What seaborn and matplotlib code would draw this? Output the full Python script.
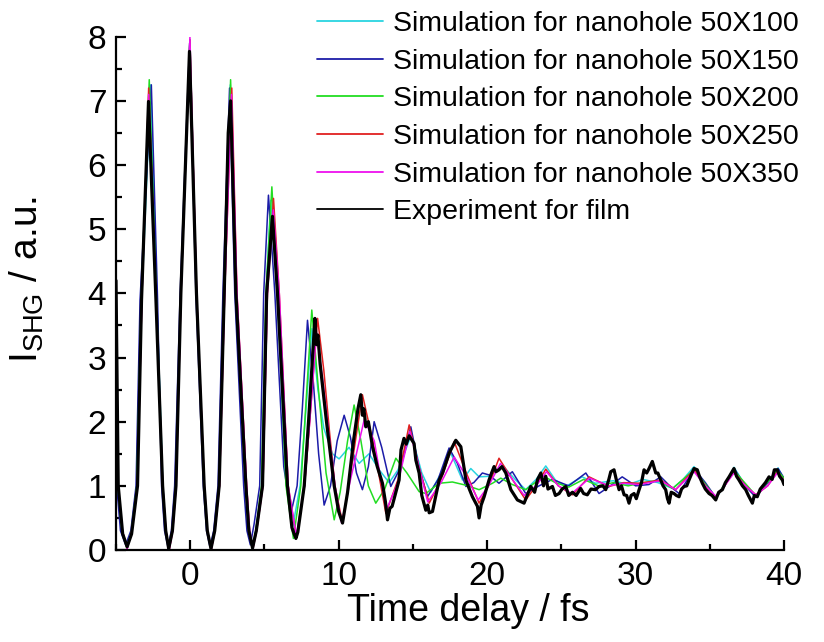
import matplotlib
matplotlib.use("Agg")
import matplotlib.pyplot as plt
from matplotlib.ticker import MultipleLocator
import numpy as np
import pandas as pd
import seaborn as sns

# ---- data: time delay (fs) and SHG intensity (a.u.) ----
x_100 = [-5.0, -4.86, -4.58, -4.25, -3.93, -3.58, -3.27, -2.66, -2.25, -1.84, -1.65, -1.43, -1.2, -0.98,
         -0.62, -0.02, 0.42, 0.93, 1.15, 1.4, 1.65, 1.94, 2.27, 2.70, 3.1, 3.74, 3.95, 4.18, 4.42, 4.84,
         5.12, 5.42, 5.85, 6.45, 6.9, 7.4, 7.8, 8.2, 8.6, 9.0, 9.58, 10.03, 10.7, 11.38, 12.05, 12.73,
         13.4, 14.0, 14.9, 15.6, 16.2, 16.9, 17.55, 18.34, 18.9, 19.46, 20.2, 21.03, 21.93, 22.6, 23.3,
         23.95, 24.6, 25.3, 26.4, 27.3, 28.5, 29.5, 30.5, 31.5, 32.5, 33.2, 33.94, 34.7, 35.4, 36.0,
         36.63, 37.4, 38.1, 38.9, 39.6, 40.0]
y_100 = [4.0, 1.0, 0.3, 0.03, 0.3, 1.0, 3.9, 7.25, 3.9, 1.0, 0.3, 0.02, 0.3, 1.0,
         4.0, 7.95, 4.0, 1.0, 0.3, 0.02, 0.3, 1.0, 4.0, 7.25, 4.0, 1.0, 0.3, 0.03, 0.3, 1.0,
         4.0, 5.45, 4.0, 1.1, 0.35, 1.0, 2.2, 3.45, 2.5, 1.9, 1.5, 1.42, 1.6, 1.35, 1.5, 1.25,
         1.05, 1.25, 1.8, 1.2, 0.9, 1.2, 1.51, 1.09, 1.27, 1.14, 1.15, 1.32, 1.09, 0.94, 1.1,
         1.31, 1.09, 0.99, 1.14, 1.04, 1.08, 1.02, 1.1, 1.05, 0.96, 1.1, 1.3, 1.0, 0.8, 1.0,
         1.29, 1.0, 0.83, 1.05, 1.28, 1.1]

x_150 = [-5.0, -4.95, -4.7, -4.35, -4.0, -3.65, -3.38, -2.62, -2.2, -1.93, -1.73, -1.5, -1.27, -1.05,
         -0.68, -0.04, 0.38, 0.88, 1.1, 1.33, 1.58, 1.87, 2.2, 2.65, 3.0, 3.6, 3.82, 4.05, 4.3, 4.68,
         4.95, 5.27, 5.7, 6.3, 6.78, 7.2, 7.55, 7.9, 8.3, 8.65, 9.02, 9.45, 9.9, 10.37, 10.8, 11.2,
         11.6, 12.0, 12.39, 12.9, 13.51, 14.2, 14.86, 15.4, 15.98, 16.7, 17.44, 18.0, 18.57, 19.1,
         19.68, 20.13, 20.8, 21.7, 22.6, 23.5, 24.4, 25.5, 26.65, 27.54, 28.3, 29.1, 30.0, 30.9, 31.7,
         32.3, 32.93, 33.94, 34.7, 35.4, 36.0, 36.63, 37.4, 38.1, 38.9, 39.6, 40.0]
y_150 = [3.6, 1.0, 0.3, 0.08, 0.3, 1.0, 3.9, 7.25, 3.9, 1.0, 0.3, 0.05, 0.3, 1.0,
         4.0, 7.9, 4.0, 1.0, 0.3, 0.05, 0.3, 1.0, 4.0, 7.2, 4.0, 1.0, 0.3, 0.08, 0.4, 1.0,
         4.0, 5.53, 4.0, 1.3, 0.57, 1.0, 2.2, 3.58, 2.6, 1.5, 0.7, 1.0, 1.7, 2.1, 1.75, 1.2,
         0.94, 1.3, 2.0, 1.6, 0.99, 1.3, 1.92, 1.3, 0.83, 1.1, 1.59, 1.35, 0.99, 1.05,
         1.2, 1.17, 1.04, 1.22, 0.88, 1.0, 1.1, 1.0, 1.2, 0.88, 1.0, 1.14, 1.0, 1.02, 1.14,
         1.0, 0.88, 1.27, 1.05, 0.82, 1.0, 1.27, 1.0, 0.82, 1.05, 1.27, 1.12]

x_200 = [-5.0, -4.88, -4.6, -4.27, -3.95, -3.6, -3.3, -2.76, -2.28, -1.86, -1.66, -1.44, -1.21, -0.98,
         -0.63, -0.02, 0.42, 0.93, 1.15, 1.4, 1.65, 1.95, 2.28, 2.72, 3.1, 3.74, 3.95, 4.18, 4.42, 4.8,
         5.1, 5.5, 5.9, 6.45, 6.95, 7.45, 7.8, 8.19, 8.6, 9.15, 9.7, 10.1, 10.6, 11.04, 11.5, 12.0,
         12.5, 13.1, 13.85, 14.6, 15.42, 15.87, 16.77, 17.66, 18.57, 19.46, 20.36, 20.92, 21.7, 22.6,
         23.8, 24.6, 25.5, 26.5, 27.5, 28.5, 29.5, 30.5, 31.5, 32.5, 33.94, 35.4, 36.63, 38.1, 39.55, 40.0]
y_200 = [3.9, 1.0, 0.3, 0.03, 0.3, 1.0, 3.9, 7.33, 3.9, 1.0, 0.3, 0.02, 0.3, 1.0,
         4.0, 7.95, 4.0, 1.0, 0.3, 0.02, 0.3, 1.0, 4.0, 7.33, 4.0, 1.0, 0.3, 0.03, 0.3, 1.0,
         4.0, 5.66, 4.0, 1.0, 0.18, 1.0, 2.3, 3.74, 2.6, 1.2, 0.47, 0.9, 1.7, 2.26, 1.7, 1.0,
         0.73, 0.95, 1.43, 1.2, 0.91, 0.88, 1.04, 1.06, 1.01, 0.94, 1.04, 1.12, 1.02, 0.94,
         1.15, 1.05, 0.98, 1.1, 1.0, 1.05, 1.0, 1.05, 1.08, 0.96, 1.25, 0.82, 1.24, 0.85, 1.24, 1.12]

x_250 = [-5.0, -4.86, -4.57, -4.25, -3.93, -3.56, -3.26, -2.8, -2.3, -1.85, -1.64, -1.42, -1.18, -0.95,
         -0.62, -0.02, 0.43, 0.95, 1.16, 1.41, 1.66, 1.97, 2.32, 2.8, 3.15, 3.8, 4.0, 4.22, 4.47, 4.9,
         5.2, 5.61, 6.0, 6.6, 7.15, 7.7, 8.05, 8.58, 9.0, 9.4, 9.75, 10.26, 10.8, 11.6, 12.3, 13.18,
         14.0, 14.75, 15.4, 16.1, 16.9, 17.78, 18.6, 19.46, 20.1, 20.8, 21.7, 22.6, 23.3, 23.95, 24.8,
         25.75, 26.87, 28.2, 29.2, 30.24, 31.7, 32.7, 33.94, 34.7, 35.4, 36.0, 36.63, 37.4, 38.1, 38.9,
         39.55, 40.0]
y_250 = [4.0, 1.0, 0.3, 0.02, 0.3, 1.0, 3.9, 7.2, 3.9, 1.0, 0.3, 0.0, 0.3, 1.0,
         4.0, 7.95, 4.0, 1.0, 0.3, 0.0, 0.3, 1.0, 4.0, 7.2, 4.0, 1.0, 0.3, 0.02, 0.3, 1.0,
         4.0, 5.48, 4.0, 1.0, 0.2, 1.0, 2.0, 3.61, 2.8, 1.8, 1.0, 0.42, 1.2, 2.42, 1.7, 0.57,
         1.1, 1.95, 1.3, 0.73, 1.1, 1.69, 1.2, 0.73, 1.0, 1.43, 1.1, 0.78, 1.0, 1.26, 1.0,
         0.86, 1.14, 0.99, 1.05, 1.04, 1.09, 0.94, 1.25, 1.0, 0.81, 1.0, 1.22, 1.0, 0.86, 1.0,
         1.22, 1.08]

x_350 = [-5.0, -4.86, -4.57, -4.25, -3.93, -3.56, -3.26, -2.8, -2.3, -1.85, -1.64, -1.42, -1.18, -0.95,
         -0.62, -0.02, 0.43, 0.95, 1.16, 1.41, 1.66, 1.97, 2.32, 2.78, 3.15, 3.8, 4.0, 4.22, 4.47, 4.9,
         5.2, 5.6, 6.0, 6.6, 7.15, 7.7, 8.05, 8.5, 8.95, 9.4, 9.75, 10.2, 10.8, 11.72, 12.4, 13.2,
         14.0, 14.8, 15.4, 16.0, 16.9, 17.78, 18.6, 19.4, 20.1, 20.9, 21.7, 22.5, 23.3, 24.0, 24.8,
         25.7, 26.9, 28.2, 29.2, 30.2, 31.7, 32.7, 33.94, 34.7, 35.4, 36.0, 36.63, 37.4, 38.1, 38.9,
         39.55, 40.0]
y_350 = [4.0, 1.0, 0.3, 0.02, 0.3, 1.0, 3.9, 7.1, 3.9, 1.0, 0.3, 0.0, 0.3, 1.0,
         4.0, 8.0, 4.0, 1.0, 0.3, 0.0, 0.3, 1.0, 4.0, 7.1, 4.0, 1.0, 0.3, 0.02, 0.3, 1.0,
         4.0, 5.3, 4.0, 1.0, 0.22, 1.0, 2.0, 3.4, 2.6, 1.7, 1.0, 0.42, 1.1, 2.03, 1.7, 0.62,
         1.05, 1.85, 1.3, 0.75, 1.05, 1.45, 1.15, 0.78, 1.0, 1.35, 1.1, 0.85, 1.0, 1.22, 1.0,
         0.88, 1.12, 1.0, 1.04, 1.02, 1.08, 0.94, 1.22, 1.0, 0.84, 1.0, 1.2, 1.0, 0.86, 1.0,
         1.2, 1.08]

x_film = [-5.0, -4.85, -4.55, -4.25, -3.95, -3.55, -3.28, -2.81, -2.31, -1.86, -1.65, -1.45, -1.2, -0.96,
          -0.63, -0.05, 0.42, 0.94, 1.15, 1.4, 1.65, 1.95, 2.29, 2.56, 2.72, 3.08, 3.75, 3.95, 4.2, 4.45,
          4.87, 5.15, 5.54, 5.88, 6.55, 6.85, 7.0, 7.12, 7.25, 7.68, 7.97, 8.4, 8.5, 8.6, 8.75, 9.18,
          9.7, 10.0, 10.26, 10.6, 11.0, 11.3, 11.49, 11.6, 11.7, 11.83, 12.0, 12.28, 12.6, 12.95, 13.15,
          13.29, 13.45, 13.6, 14.07, 14.2, 14.4, 14.55, 14.75, 14.86, 15.08, 15.2, 15.42, 15.6, 15.87,
          16.0, 16.1, 16.32, 16.77, 17.0, 17.44, 17.89, 18.23, 18.57, 18.8, 19.01, 19.35, 19.46, 19.6,
          19.8, 20.13, 20.3, 20.47, 20.6, 20.8, 21.0, 21.26, 21.6, 22.04, 22.49, 22.94, 23.2, 23.4,
          23.62, 23.8, 23.95, 24.1, 24.4, 24.6, 24.85, 25.05, 25.3, 25.5, 25.75, 26.0, 26.3, 26.5,
          26.75, 27.0, 27.3, 27.54, 27.8, 27.99, 28.2, 28.33, 28.55, 28.7, 28.89, 29.05, 29.23, 29.4,
          29.56, 29.7, 29.9, 30.05, 30.24, 30.4, 30.57, 30.75, 30.91, 31.13, 31.36, 31.5, 31.7, 31.85,
          32.03, 32.15, 32.26, 32.4, 32.59, 32.75, 32.93, 33.1, 33.27, 33.45, 33.6, 33.8, 33.94, 34.16,
          34.3, 34.5, 34.7, 34.95, 35.15, 35.4, 35.6, 35.85, 36.05, 36.3, 36.45, 36.63, 36.8, 36.97,
          37.2, 37.42, 37.6, 37.87, 38.0, 38.2, 38.4, 38.54, 38.75, 38.99, 39.2, 39.35, 39.55, 39.7,
          39.89, 40.0]
y_film = [4.2, 1.0, 0.25, 0.05, 0.25, 1.0, 3.9, 6.99, 3.9, 1.0, 0.3, 0.02, 0.3, 1.0,
          4.0, 7.77, 4.0, 1.0, 0.3, 0.02, 0.3, 1.0, 4.0, 6.5, 7.0, 4.0, 1.0, 0.3, 0.03, 0.3,
          1.0, 4.0, 5.2, 4.0, 1.0, 0.35, 0.25, 0.18, 0.28, 1.0, 2.0, 3.61, 3.2, 3.35, 2.9, 2.0,
          1.0, 0.6, 0.42, 0.9, 1.7, 2.2, 2.42, 2.1, 2.2, 1.92, 2.0, 1.61, 1.3, 1.04, 0.75,
          0.47, 0.65, 0.68, 1.09, 1.56, 1.74, 1.65, 1.78, 1.74, 1.66, 1.4, 1.2, 0.85, 0.62,
          0.7, 0.58, 0.6, 1.09, 1.2, 1.51, 1.71, 1.61, 1.09, 0.95, 0.83, 0.68, 0.5, 0.7,
          0.83, 1.09, 1.2, 1.3, 1.22, 1.25, 1.3, 1.2, 0.94, 0.78, 0.73, 0.99, 0.9, 1.1,
          1.2, 1.0, 1.15, 0.95, 0.99, 0.85, 0.88, 0.95, 0.99, 0.85, 0.9, 0.85, 0.96, 0.88,
          0.86, 0.95, 0.94, 0.99, 1.0, 0.94, 1.1, 1.22, 1.25, 1.1, 0.94, 1.0, 0.86, 0.85,
          0.73, 0.85, 0.88, 0.8, 0.94, 1.05, 1.25, 1.2, 1.27, 1.38, 1.2, 1.2, 1.09, 1.0,
          0.94, 0.8, 0.73, 0.9, 0.88, 0.85, 0.83, 0.95, 0.99, 1.0, 1.09, 1.2, 1.27, 1.25,
          1.15, 1.04, 0.95, 0.88, 0.85, 0.78, 0.9, 0.94, 1.05, 1.14, 1.2, 1.27, 1.15, 1.09,
          1.0, 0.94, 0.85, 0.73, 0.85, 0.83, 0.95, 0.99, 1.05, 1.14, 1.1, 1.25, 1.25, 1.15,
          1.09, 1.02]

labels = ["Simulation for nanohole 50X100", "Simulation for nanohole 50X150",
          "Simulation for nanohole 50X200", "Simulation for nanohole 50X250",
          "Simulation for nanohole 50X350", "Experiment for film"]
colors = ["#2ad4e0", "#1c1ca8", "#22dd22", "#e02020", "#ee10ee", "#000000"]
widths = [1.1, 1.1, 1.1, 1.1, 1.1, 2.3]
xs = [x_100, x_150, x_200, x_250, x_350, x_film]
ys = [y_100, y_150, y_200, y_250, y_350, y_film]

sns.set_style("white")
plt.rcParams["font.family"] = ["Liberation Sans", "DejaVu Sans"]
plt.rcParams["mathtext.fontset"] = "custom"
plt.rcParams["mathtext.rm"] = "Liberation Sans"
plt.rcParams["mathtext.it"] = "Liberation Sans"
for key in ["text.color", "axes.labelcolor", "xtick.color", "ytick.color"]:
    plt.rcParams[key] = "black"

fig = plt.figure(figsize=(8.24, 6.42), dpi=100)
ax = fig.add_axes([116 / 824, 92 / 642, 668 / 824, 513.3 / 642])

for xv, yv, lab, col, lw in zip(xs, ys, labels, colors, widths):
    df = pd.DataFrame({"t": xv, "I": yv})
    sns.lineplot(data=df, x="t", y="I", ax=ax, color=col, linewidth=lw,
                 label=lab, sort=False, estimator=None)

ax.set_xlim(-5, 40)
ax.set_ylim(0, 8)
ax.xaxis.set_major_locator(MultipleLocator(10))
ax.xaxis.set_minor_locator(MultipleLocator(5))
ax.yaxis.set_major_locator(MultipleLocator(1))
ax.yaxis.set_minor_locator(MultipleLocator(0.5))
ax.tick_params(which="both", direction="in", width=1.6, labelsize=24)
ax.tick_params(which="major", length=7.5)
ax.tick_params(which="minor", length=4.5)
ax.tick_params(axis="x", pad=8)
ax.tick_params(axis="y", pad=7)
ax.tick_params(top=False, right=False, bottom=True, left=True, which="both")
for side in ["top", "right"]:
    ax.spines[side].set_visible(False)
for side in ["left", "bottom"]:
    ax.spines[side].set_linewidth(1.6)
    ax.spines[side].set_color("black")

ax.set_xlabel("Time delay / fs", fontsize=27)
ax.set_ylabel(r"I$_{\mathrm{SHG}}$ / a.u.", fontsize=28)
ax.xaxis.set_label_coords(0.527, -0.083)
ax.yaxis.set_label_coords(-0.105, 0.526)

leg = ax.legend(loc="upper left", bbox_to_anchor=(317 / 824, 1 - 11 / 642),
                bbox_transform=fig.transFigure, frameon=False, fontsize=20.5,
                handlelength=2.32, handletextpad=0.35, labelspacing=0.41,
                borderpad=0, borderaxespad=0)
for line in leg.get_lines():
    line.set_linewidth(1.3)

fig.savefig("out.png", dpi=100)
